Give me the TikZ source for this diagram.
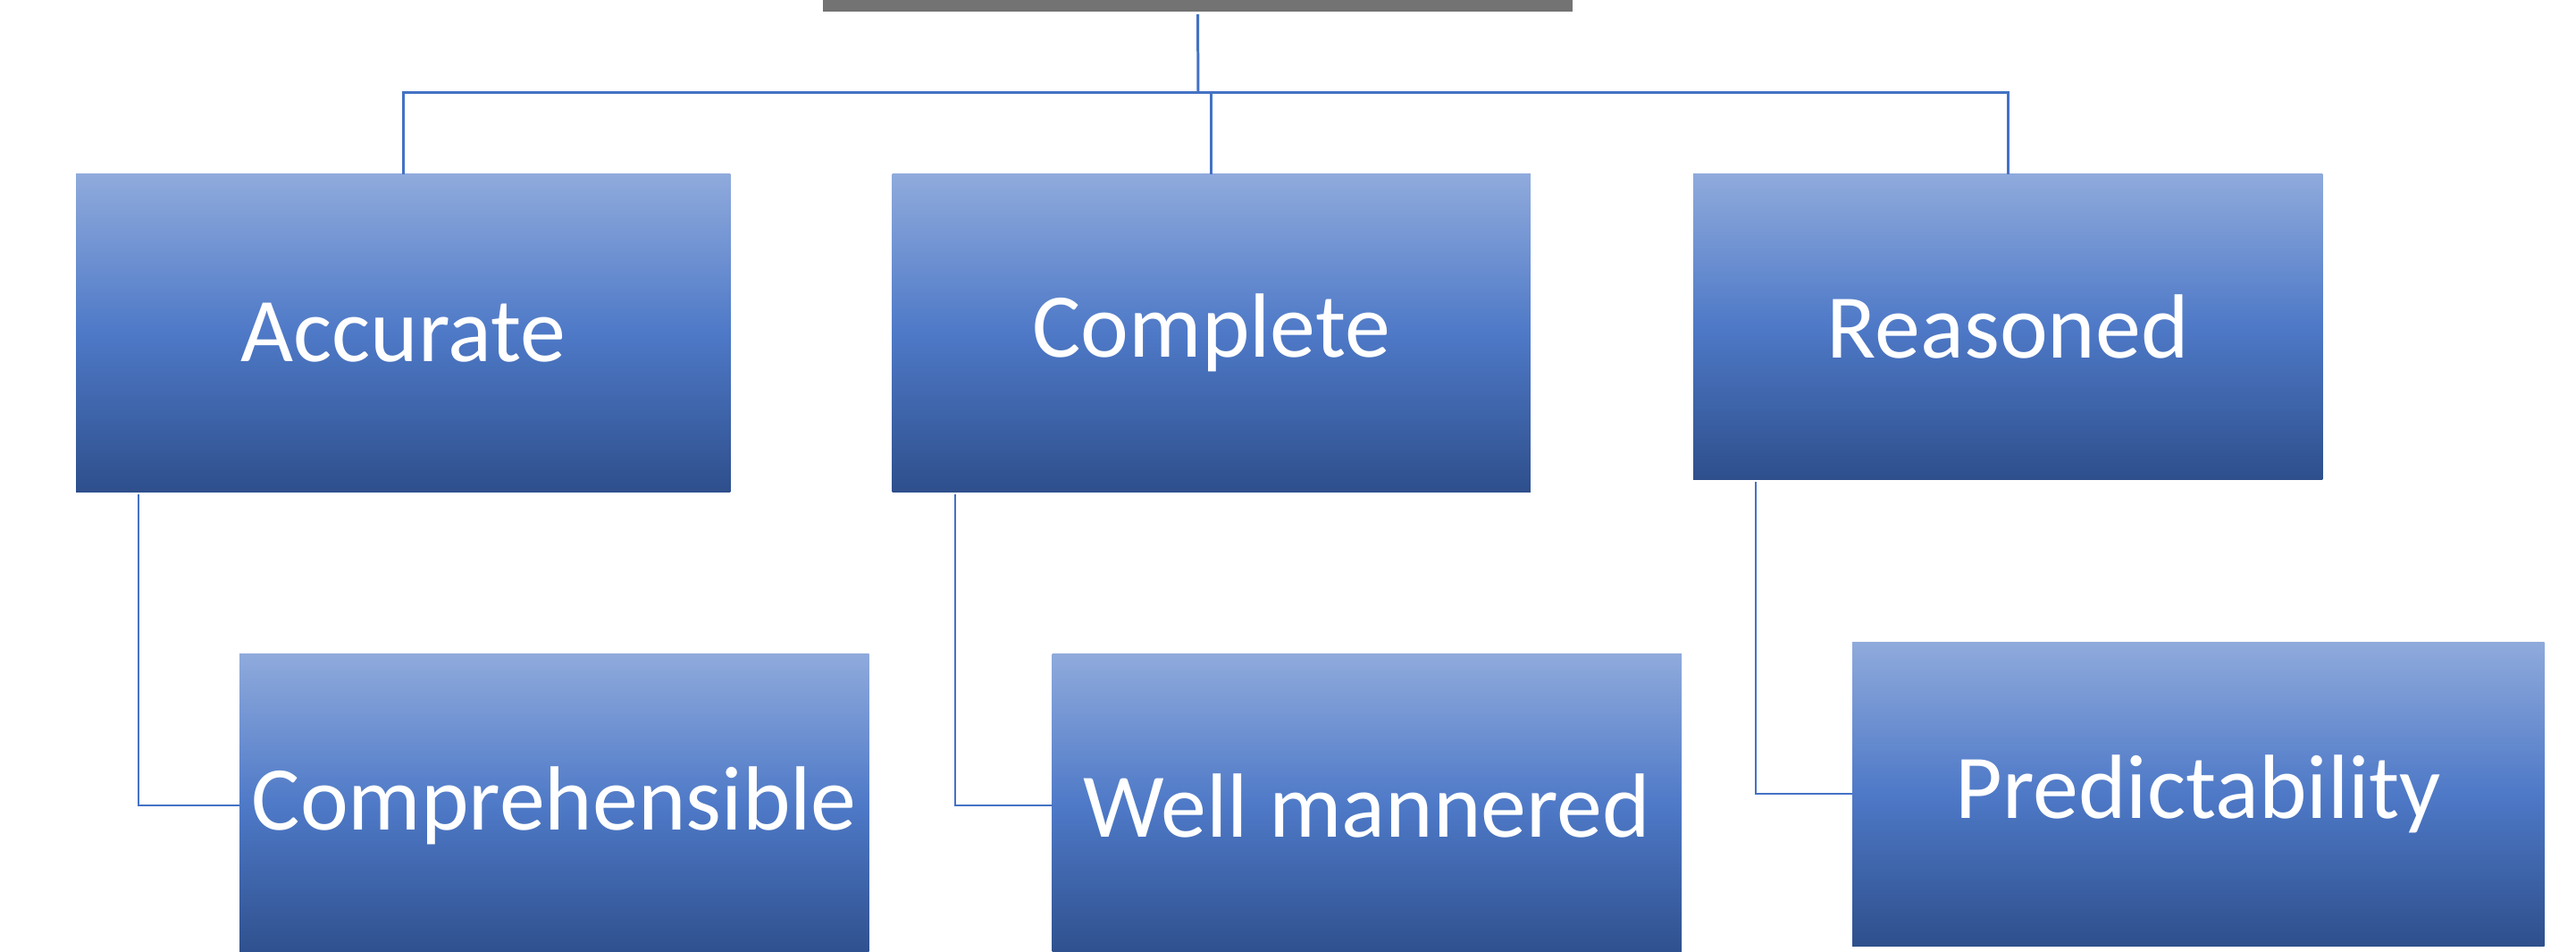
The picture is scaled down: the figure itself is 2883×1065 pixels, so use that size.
\documentclass[tikz,border=0pt]{standalone}
\usepackage{fontspec}
\setmainfont{Carlito}
\usetikzlibrary{positioning}
\definecolor{boxtop}{HTML}{8FAADC}
\definecolor{boxmid}{HTML}{4E79C7}
\definecolor{boxbot}{HTML}{2E4F8C}
\definecolor{linkblue}{HTML}{4472C4}
\definecolor{bargray}{HTML}{737373}
\tikzset{
    quality/.style={rectangle, inner sep=0pt, outer sep=0pt, top color=boxtop, bottom color=boxbot, middle color=boxmid, text=white, font=\fontsize{29}{35}\selectfont},
    link/.style={draw=linkblue, line width=0.85pt},
    sublink/.style={draw=linkblue, line width=0.6pt},
}

\begin{document}
\begin{tikzpicture}[x=0.01cm, y=-0.01cm]
            \useasboundingbox (0,0) rectangle (2883,1065);
            \node (root) [fill=bargray, inner sep=0pt, outer sep=0pt, minimum width=8.39cm, minimum height=0.13cm, anchor=north] at (1340.5,0) {};
            \node (accurate) [quality, minimum width=7.32cm, minimum height=3.55cm, anchor=north west] at (85,195) {Accurate};
            \node (complete) [quality, minimum width=7.14cm, minimum height=3.55cm, right=1.81cm of accurate] {Complete};
            \node (reasoned) [quality, minimum width=7.04cm, minimum height=3.41cm, right=1.82cm of complete.north east, anchor=north west] {Reasoned};
            \node (comprehensible) [quality, minimum width=7.04cm, minimum height=3.4cm, below=1.81cm of accurate.south west, anchor=north west, xshift=1.83cm] {Comprehensible};
            \node (mannered) [quality, minimum width=7.04cm, minimum height=3.4cm, below=1.81cm of complete.south west, anchor=north west, xshift=1.79cm] {Well mannered};
            \node (predictability) [quality, minimum width=7.74cm, minimum height=3.4cm, below=1.82cm of reasoned.south west, anchor=north west, xshift=1.78cm] {Predictability};
            \coordinate (hub) at (1341,104);
            \draw [link] ([yshift=-0.03cm]root.south) -- (hub);
            \draw [link] (accurate.north) |- (hub) -| (reasoned.north);
            \draw [link] (complete.north) -- (complete.north |- hub);
            \draw [sublink] ([xshift=0.7cm, yshift=-0.03cm]accurate.south west) |- (comprehensible.west);
            \draw [sublink] ([xshift=0.7cm, yshift=-0.03cm]complete.south west) |- (mannered.west);
            \draw [sublink] ([xshift=0.7cm, yshift=-0.03cm]reasoned.south west) |- (predictability.west);
        \end{tikzpicture}
\end{document}
